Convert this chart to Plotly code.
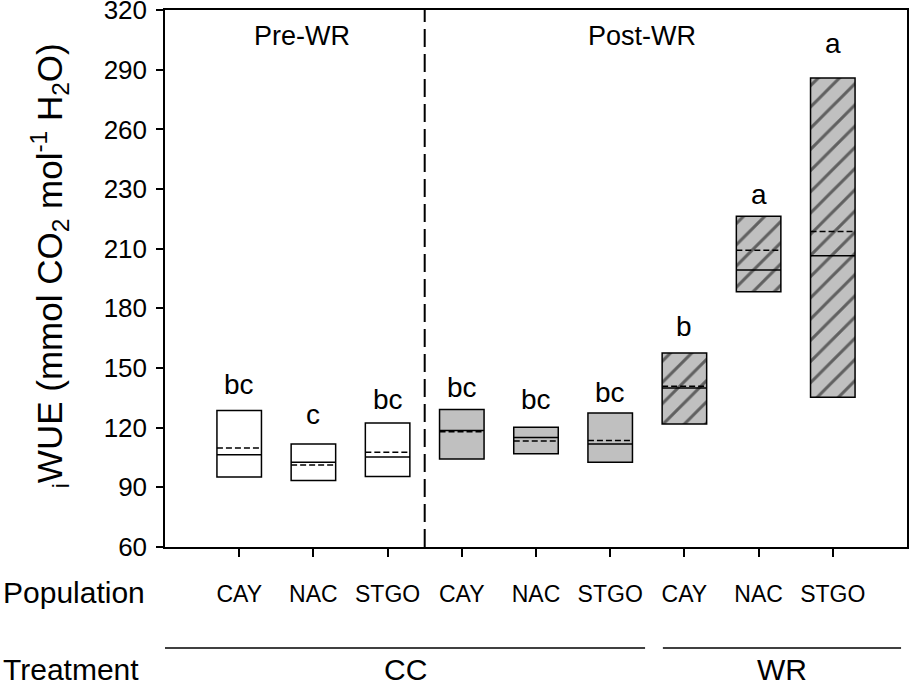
import plotly.graph_objects as go

# WUE per population, pre / post water restriction
populations = ["CAY", "NAC", "STGO", "CAY", "NAC", "STGO", "CAY", "NAC", "STGO"]
positions = [1, 2, 3, 4, 5, 6, 7, 8, 9]
q1 = [95.2, 93.4, 95.5, 104.3, 106.9, 102.6, 121.9, 188.3, 135.3]
q3 = [128.6, 111.8, 122.4, 129.1, 120.2, 127.4, 157.6, 226.3, 295.9]
median = [106.4, 102.6, 105.3, 118.6, 115.1, 111.8, 139.9, 199.3, 206.5]
mean = [109.8, 101.2, 107.6, 118.0, 113.3, 113.6, 140.8, 209.2, 218.6]
letters = ["bc", "c", "bc", "bc", "bc", "bc", "b", "a", "a"]
letter_y = [141.6, 126.5, 134.1, 140.1, 134.1, 137.6, 171.0, 237.2, 313.2]

y_tickvals = [60, 90, 120, 150, 180, 210, 240, 270, 300, 330]
y_ticktext = ["60", "90", "120", "150", "180", "210", "230", "260", "290", "320"]

FONT = "Arial, Liberation Sans, sans-serif"
GREY = "#c0c0c0"
HALF = 0.3  # half box width in x units

fig = go.Figure()

# hatched background for the WR boxes
wr = slice(6, 9)
fig.add_trace(go.Bar(
    x=positions[wr], base=q1[wr],
    y=[t - b for t, b in zip(q3[wr], q1[wr])],
    width=2 * HALF,
    marker=dict(color=GREY, line=dict(width=0),
                pattern=dict(shape="/", fgcolor="black", size=15, solidity=0.2)),
    showlegend=False, hoverinfo="skip"
))


def add_boxes(sl, fill):
    fig.add_trace(go.Box(
        x=positions[sl], q1=q1[sl], median=median[sl], q3=q3[sl],
        lowerfence=q1[sl], upperfence=q3[sl],
        boxpoints=False, width=2 * HALF, whiskerwidth=0,
        fillcolor=fill, line=dict(color="black", width=1.5),
        showlegend=False
    ))


add_boxes(slice(0, 3), "white")
add_boxes(slice(3, 6), GREY)
add_boxes(slice(6, 9), "rgba(0,0,0,0)")

# mean as dashed line across each box
mx, my = [], []
for p, m in zip(positions, mean):
    mx += [p - HALF, p + HALF, None]
    my += [m, m, None]
fig.add_trace(go.Scatter(x=mx, y=my, mode="lines",
                         line=dict(color="black", width=1.5, dash="6px,3px"),
                         showlegend=False, hoverinfo="skip"))

# significance letters
for x, y, t in zip(positions, letter_y, letters):
    fig.add_annotation(x=x, y=y, text=t, showarrow=False,
                       xanchor="center", yanchor="middle",
                       font=dict(size=28, color="black", family=FONT))

# period labels
for x, t in [(1.84, "Pre-WR"), (6.43, "Post-WR")]:
    fig.add_annotation(x=x, y=0.951, yref="paper", text=t, showarrow=False,
                       xanchor="center", yanchor="middle",
                       font=dict(size=27, color="black", family=FONT))

# divider between periods
fig.add_shape(type="line", x0=3.5, x1=3.5, y0=0, y1=1, yref="paper",
              line=dict(color="black", width=2, dash="18px,7px"))

# y title
fig.add_annotation(x=-0.155, y=0.524, xref="paper", yref="paper", textangle=-90,
                   xanchor="center", yanchor="middle",
                   text="<sub>i</sub>WUE (mmol CO<sub>2</sub> mol<sup>-1</sup> H<sub>2</sub>O)",
                   showarrow=False, font=dict(size=35, color="black", family=FONT))

# bottom row labels
fig.add_annotation(x=-0.221, y=-0.085, xref="paper", yref="paper",
                   xanchor="left", yanchor="middle",
                   text="Population", showarrow=False,
                   font=dict(size=30, color="black", family=FONT))
fig.add_annotation(x=-0.221, y=-0.229, xref="paper", yref="paper",
                   xanchor="left", yanchor="middle",
                   text="Treatment", showarrow=False,
                   font=dict(size=30, color="black", family=FONT))

# treatment bars
fig.add_shape(type="line", x0=0.0, x1=6.47, y0=-0.188, y1=-0.188, yref="paper",
              line=dict(color="black", width=1.5))
fig.add_shape(type="line", x0=6.71, x1=9.92, y0=-0.188, y1=-0.188, yref="paper",
              line=dict(color="black", width=1.5))
for x, t in [(3.24, "CC"), (8.31, "WR")]:
    fig.add_annotation(x=x, y=-0.229, yref="paper", text=t, showarrow=False,
                       xanchor="center", yanchor="middle",
                       font=dict(size=30, color="black", family=FONT))

fig.update_xaxes(
    range=[0, 10], tickvals=positions, ticktext=populations,
    ticks="outside", ticklen=8, tickwidth=1.5, tickcolor="black",
    showline=True, linecolor="black", linewidth=1.5, mirror=True,
    showgrid=False, zeroline=False, ticklabelstandoff=18,
    tickfont=dict(size=23, color="black", family=FONT)
)
fig.update_yaxes(
    range=[60, 330.05], tickvals=y_tickvals, ticktext=y_ticktext,
    ticks="outside", ticklen=7, tickwidth=1.5, tickcolor="black",
    showline=True, linecolor="black", linewidth=1.5, mirror=True,
    showgrid=False, zeroline=False, ticklabelstandoff=4,
    ticklabeloverflow="allow",
    tickfont=dict(size=26, color="black", family=FONT)
)
fig.update_layout(
    width=909, height=685,
    margin=dict(l=165, r=2, t=10, b=138, autoexpand=False),
    plot_bgcolor="white", paper_bgcolor="white",
    boxmode="overlay", barmode="overlay",
    font=dict(family=FONT, color="black")
)

# drop the default 8px body margin so the figure fills the window
fig.write_html("out.html", config={"displayModeBar": False},
               post_script="document.body.style.margin='0px';")
